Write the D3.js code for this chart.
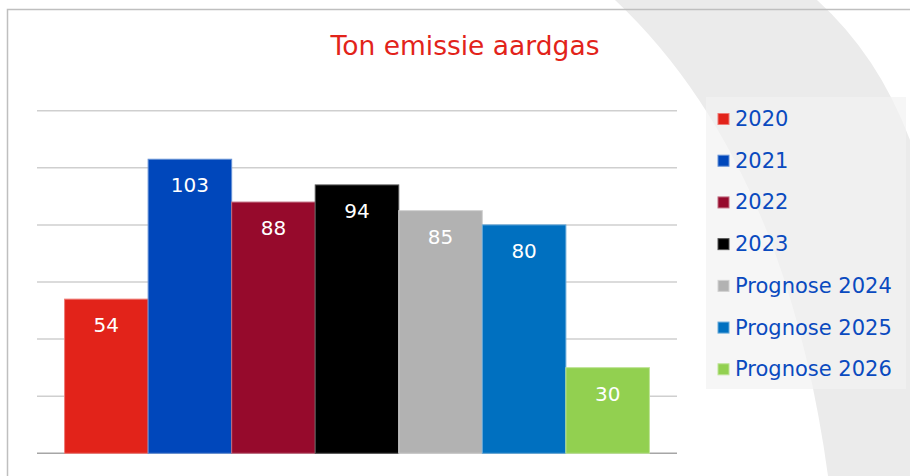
<!DOCTYPE html>
<html>
<head>
<meta charset="utf-8">
<script src="https://cdn.jsdelivr.net/npm/d3@7"></script>
<style>
  body { margin: 0; background: #fff; }
  svg { display: block; font-family: "DejaVu Sans", Verdana, sans-serif; }
</style>
</head>
<body>
<div id="chart"></div>
<script>
const series = ["2020", "2021", "2022", "2023", "Prognose 2024", "Prognose 2025", "Prognose 2026"]
const values = [54, 103, 88, 94, 85, 80, 30]
const colors = ["#e2231a", "#0047bb", "#960a2c", "#000000", "#b2b2b2", "#0070c0", "#92d050"]
const yTicks = [0, 20, 40, 60, 80, 100, 120]

const W = 910, H = 476
const plot = {left: 37, right: 677, top: 110.7, bottom: 453.3}

const svg = d3.select("#chart")
    .append("svg")
        .attr("width", W)
        .attr("height", H)

// grey swoosh in the background
svg.append("path")
    .attr("d", "M615,0 Q785,160 828,476 L910,476 L910,140 Q878,55 817,0 Z")
    .attr("fill", "#ebebeb")

// frame
svg.append("path")
    .attr("d", `M7.5,${H} L7.5,9.5 L${W},9.5`)
    .attr("fill", "none")
    .attr("stroke", "#bfbfbf")
    .attr("stroke-width", 1.5)

const x = d3.scaleBand()
    .domain(series)
    .range([plot.left, plot.right])
    .paddingInner(0)
    .paddingOuter(0.33)

const y = d3.scaleLinear()
    .domain([0, 120])
    .range([plot.bottom, plot.top])

// gridlines
svg.append("g")
    .selectAll("line")
    .data(yTicks)
    .enter()
    .append("line")
        .attr("x1", plot.left)
        .attr("x2", plot.right)
        .attr("y1", d => y(d))
        .attr("y2", d => y(d))
        .attr("stroke", d => d === 0 ? "#a6a6a6" : "#cfcfcf")
        .attr("stroke-width", 1.5)

// bars
svg.append("g")
    .selectAll("rect")
    .data(values)
    .enter()
    .append("rect")
        .attr("x", (d, i) => x(series[i]))
        .attr("y", d => y(d))
        .attr("width", x.bandwidth())
        .attr("height", d => y(0) - y(d))
        .attr("fill", (d, i) => colors[i])
        .attr("stroke", (d, i) => i === 3 ? "#555" : d3.interpolateRgb(colors[i], "#fff")(0.4))
        .attr("stroke-width", 1)

// value labels
svg.append("g")
    .selectAll("text")
    .data(values)
    .enter()
    .append("text")
        .attr("x", (d, i) => x(series[i]) + x.bandwidth() / 2)
        .attr("y", d => y(d) + 33)
        .attr("text-anchor", "middle")
        .attr("font-size", "20px")
        .attr("fill", "#fff")
        .text(d => d)

// title
svg.append("text")
    .attr("x", 465)
    .attr("y", 55)
    .attr("text-anchor", "middle")
    .attr("font-size", "26.5px")
    .attr("fill", "#e2231a")
    .text("Ton emissie aardgas")

// legend
const legend = svg.append("g")

legend.append("rect")
    .attr("x", 706)
    .attr("y", 97)
    .attr("width", 200)
    .attr("height", 292)
    .attr("fill", "#f2f2f2")
    .attr("opacity", 0.7)

const ly = d3.scaleBand()
    .domain(series)
    .range([97, 389])

const item = legend.selectAll("g.item")
    .data(series)
    .enter()
    .append("g")
        .classed("item", true)
        .attr("transform", d => `translate(0, ${ly(d) + 29})`)

item.append("rect")
    .attr("x", 718)
    .attr("y", -12.5)
    .attr("width", 11)
    .attr("height", 11)
    .attr("fill", (d, i) => colors[i])
    .attr("stroke", (d, i) => i === 3 ? "#555" : d3.interpolateRgb(colors[i], "#fff")(0.4))
    .attr("stroke-width", 1)

item.append("text")
    .attr("x", 735)
    .attr("y", 0)
    .attr("font-size", "21px")
    .attr("fill", "#0a4abf")
    .text(d => d)
</script>
</body>
</html>
